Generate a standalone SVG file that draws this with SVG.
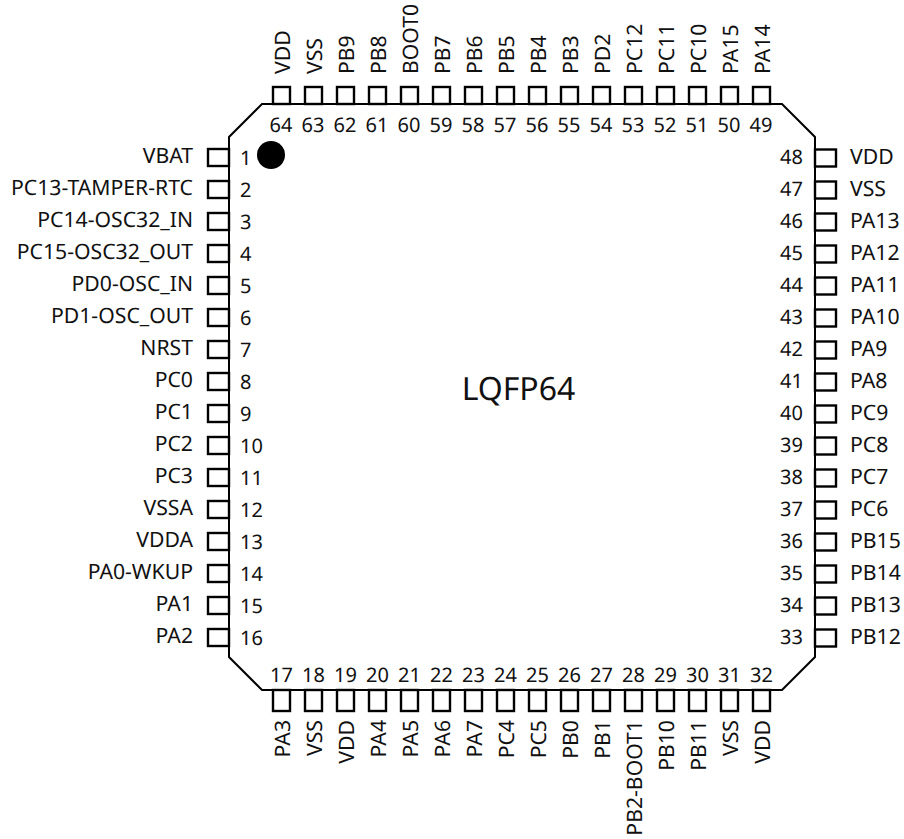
<svg xmlns="http://www.w3.org/2000/svg" width="904" height="839" viewBox="0 0 904 839">
<style>
text{font-family:"Noto Sans",sans-serif;font-size:21.2px;fill:#111;text-rendering:geometricPrecision}
#left text:last-child,#right text:last-child,#top text:first-of-type,#bottom text:first-of-type{font-size:20px}
.p{fill:#fff;stroke:#000;stroke-width:2.4}
.e{text-anchor:end}.s{text-anchor:start}.m{text-anchor:middle}
</style>
<rect width="904" height="839" fill="#fff"/>
<g id="connectors"></g>
<g id="body"><path d="M262 104H782L815 137V657L782 690H262L229 657V137Z" fill="#fff" stroke="#000" stroke-width="2"/><circle cx="271" cy="155" r="14" fill="#000"/><text x="518.5" y="400" class="m" style="font-size:32px">LQFP64</text></g>
<g id="left">
<g id="pin1"><rect class="p" x="208" y="149" width="21" height="17"/><text x="193" y="163" class="e">VBAT</text><text x="240" y="165">1</text></g>
<g id="pin2"><rect class="p" x="208" y="181" width="21" height="17"/><text x="193" y="195" class="e">PC13-TAMPER-RTC</text><text x="240" y="197">2</text></g>
<g id="pin3"><rect class="p" x="208" y="213" width="21" height="17"/><text x="193" y="227" class="e">PC14-OSC32_IN</text><text x="240" y="229">3</text></g>
<g id="pin4"><rect class="p" x="208" y="245" width="21" height="17"/><text x="193" y="259" class="e">PC15-OSC32_OUT</text><text x="240" y="261">4</text></g>
<g id="pin5"><rect class="p" x="208" y="277" width="21" height="17"/><text x="193" y="291" class="e">PD0-OSC_IN</text><text x="240" y="293">5</text></g>
<g id="pin6"><rect class="p" x="208" y="309" width="21" height="17"/><text x="193" y="323" class="e">PD1-OSC_OUT</text><text x="240" y="325">6</text></g>
<g id="pin7"><rect class="p" x="208" y="341" width="21" height="17"/><text x="193" y="355" class="e">NRST</text><text x="240" y="357">7</text></g>
<g id="pin8"><rect class="p" x="208" y="373" width="21" height="17"/><text x="193" y="387" class="e">PC0</text><text x="240" y="389">8</text></g>
<g id="pin9"><rect class="p" x="208" y="405" width="21" height="17"/><text x="193" y="419" class="e">PC1</text><text x="240" y="421">9</text></g>
<g id="pin10"><rect class="p" x="208" y="437" width="21" height="17"/><text x="193" y="451" class="e">PC2</text><text x="240" y="453">10</text></g>
<g id="pin11"><rect class="p" x="208" y="469" width="21" height="17"/><text x="193" y="483" class="e">PC3</text><text x="240" y="485">11</text></g>
<g id="pin12"><rect class="p" x="208" y="501" width="21" height="17"/><text x="193" y="515" class="e">VSSA</text><text x="240" y="517">12</text></g>
<g id="pin13"><rect class="p" x="208" y="533" width="21" height="17"/><text x="193" y="547" class="e">VDDA</text><text x="240" y="549">13</text></g>
<g id="pin14"><rect class="p" x="208" y="565" width="21" height="17"/><text x="193" y="579" class="e">PA0-WKUP</text><text x="240" y="581">14</text></g>
<g id="pin15"><rect class="p" x="208" y="597" width="21" height="17"/><text x="193" y="611" class="e">PA1</text><text x="240" y="613">15</text></g>
<g id="pin16"><rect class="p" x="208" y="629" width="21" height="17"/><text x="193" y="643" class="e">PA2</text><text x="240" y="645">16</text></g>
</g>
<g id="right">
<g id="pin33"><rect class="p" x="815" y="629.5" width="21" height="17"/><text x="850" y="644">PB12</text><text x="803" y="644" class="e">33</text></g>
<g id="pin34"><rect class="p" x="815" y="597.5" width="21" height="17"/><text x="850" y="612">PB13</text><text x="803" y="612" class="e">34</text></g>
<g id="pin35"><rect class="p" x="815" y="565.5" width="21" height="17"/><text x="850" y="580">PB14</text><text x="803" y="580" class="e">35</text></g>
<g id="pin36"><rect class="p" x="815" y="533.5" width="21" height="17"/><text x="850" y="548">PB15</text><text x="803" y="548" class="e">36</text></g>
<g id="pin37"><rect class="p" x="815" y="501.5" width="21" height="17"/><text x="850" y="516">PC6</text><text x="803" y="516" class="e">37</text></g>
<g id="pin38"><rect class="p" x="815" y="469.5" width="21" height="17"/><text x="850" y="484">PC7</text><text x="803" y="484" class="e">38</text></g>
<g id="pin39"><rect class="p" x="815" y="437.5" width="21" height="17"/><text x="850" y="452">PC8</text><text x="803" y="452" class="e">39</text></g>
<g id="pin40"><rect class="p" x="815" y="405.5" width="21" height="17"/><text x="850" y="420">PC9</text><text x="803" y="420" class="e">40</text></g>
<g id="pin41"><rect class="p" x="815" y="373.5" width="21" height="17"/><text x="850" y="388">PA8</text><text x="803" y="388" class="e">41</text></g>
<g id="pin42"><rect class="p" x="815" y="341.5" width="21" height="17"/><text x="850" y="356">PA9</text><text x="803" y="356" class="e">42</text></g>
<g id="pin43"><rect class="p" x="815" y="309.5" width="21" height="17"/><text x="850" y="324">PA10</text><text x="803" y="324" class="e">43</text></g>
<g id="pin44"><rect class="p" x="815" y="277.5" width="21" height="17"/><text x="850" y="292">PA11</text><text x="803" y="292" class="e">44</text></g>
<g id="pin45"><rect class="p" x="815" y="245.5" width="21" height="17"/><text x="850" y="260">PA12</text><text x="803" y="260" class="e">45</text></g>
<g id="pin46"><rect class="p" x="815" y="213.5" width="21" height="17"/><text x="850" y="228">PA13</text><text x="803" y="228" class="e">46</text></g>
<g id="pin47"><rect class="p" x="815" y="181.5" width="21" height="17"/><text x="850" y="196">VSS</text><text x="803" y="196" class="e">47</text></g>
<g id="pin48"><rect class="p" x="815" y="149.5" width="21" height="17"/><text x="850" y="164">VDD</text><text x="803" y="164" class="e">48</text></g>
</g>
<g id="bottom">
<g id="pin17"><rect class="p" x="273" y="690" width="17" height="21"/><text class="m" x="281.5" y="682">17</text><text class="e" transform="translate(290 720) rotate(-90)">PA3</text></g>
<g id="pin18"><rect class="p" x="305" y="690" width="17" height="21"/><text class="m" x="313.5" y="682">18</text><text class="e" transform="translate(322 720) rotate(-90)">VSS</text></g>
<g id="pin19"><rect class="p" x="337" y="690" width="17" height="21"/><text class="m" x="345.5" y="682">19</text><text class="e" transform="translate(354 720) rotate(-90)">VDD</text></g>
<g id="pin20"><rect class="p" x="369" y="690" width="17" height="21"/><text class="m" x="377.5" y="682">20</text><text class="e" transform="translate(386 720) rotate(-90)">PA4</text></g>
<g id="pin21"><rect class="p" x="401" y="690" width="17" height="21"/><text class="m" x="409.5" y="682">21</text><text class="e" transform="translate(418 720) rotate(-90)">PA5</text></g>
<g id="pin22"><rect class="p" x="433" y="690" width="17" height="21"/><text class="m" x="441.5" y="682">22</text><text class="e" transform="translate(450 720) rotate(-90)">PA6</text></g>
<g id="pin23"><rect class="p" x="465" y="690" width="17" height="21"/><text class="m" x="473.5" y="682">23</text><text class="e" transform="translate(482 720) rotate(-90)">PA7</text></g>
<g id="pin24"><rect class="p" x="497" y="690" width="17" height="21"/><text class="m" x="505.5" y="682">24</text><text class="e" transform="translate(514 720) rotate(-90)">PC4</text></g>
<g id="pin25"><rect class="p" x="529" y="690" width="17" height="21"/><text class="m" x="537.5" y="682">25</text><text class="e" transform="translate(546 720) rotate(-90)">PC5</text></g>
<g id="pin26"><rect class="p" x="561" y="690" width="17" height="21"/><text class="m" x="569.5" y="682">26</text><text class="e" transform="translate(578 720) rotate(-90)">PB0</text></g>
<g id="pin27"><rect class="p" x="593" y="690" width="17" height="21"/><text class="m" x="601.5" y="682">27</text><text class="e" transform="translate(610 720) rotate(-90)">PB1</text></g>
<g id="pin28"><rect class="p" x="625" y="690" width="17" height="21"/><text class="m" x="633.5" y="682">28</text><text class="e" transform="translate(642 720) rotate(-90)">PB2-BOOT1</text></g>
<g id="pin29"><rect class="p" x="657" y="690" width="17" height="21"/><text class="m" x="665.5" y="682">29</text><text class="e" transform="translate(674 720) rotate(-90)">PB10</text></g>
<g id="pin30"><rect class="p" x="689" y="690" width="17" height="21"/><text class="m" x="697.5" y="682">30</text><text class="e" transform="translate(706 720) rotate(-90)">PB11</text></g>
<g id="pin31"><rect class="p" x="721" y="690" width="17" height="21"/><text class="m" x="729.5" y="682">31</text><text class="e" transform="translate(738 720) rotate(-90)">VSS</text></g>
<g id="pin32"><rect class="p" x="753" y="690" width="17" height="21"/><text class="m" x="761.5" y="682">32</text><text class="e" transform="translate(770 720) rotate(-90)">VDD</text></g>
</g>
<g id="top">
<g id="pin49"><rect class="p" x="753" y="87" width="17" height="17"/><text class="m" x="761" y="132">49</text><text class="s" transform="translate(770 74) rotate(-90)">PA14</text></g>
<g id="pin50"><rect class="p" x="721" y="87" width="17" height="17"/><text class="m" x="729" y="132">50</text><text class="s" transform="translate(738 74) rotate(-90)">PA15</text></g>
<g id="pin51"><rect class="p" x="689" y="87" width="17" height="17"/><text class="m" x="697" y="132">51</text><text class="s" transform="translate(706 74) rotate(-90)">PC10</text></g>
<g id="pin52"><rect class="p" x="657" y="87" width="17" height="17"/><text class="m" x="665" y="132">52</text><text class="s" transform="translate(674 74) rotate(-90)">PC11</text></g>
<g id="pin53"><rect class="p" x="625" y="87" width="17" height="17"/><text class="m" x="633" y="132">53</text><text class="s" transform="translate(642 74) rotate(-90)">PC12</text></g>
<g id="pin54"><rect class="p" x="593" y="87" width="17" height="17"/><text class="m" x="601" y="132">54</text><text class="s" transform="translate(610 74) rotate(-90)">PD2</text></g>
<g id="pin55"><rect class="p" x="561" y="87" width="17" height="17"/><text class="m" x="569" y="132">55</text><text class="s" transform="translate(578 74) rotate(-90)">PB3</text></g>
<g id="pin56"><rect class="p" x="529" y="87" width="17" height="17"/><text class="m" x="537" y="132">56</text><text class="s" transform="translate(546 74) rotate(-90)">PB4</text></g>
<g id="pin57"><rect class="p" x="497" y="87" width="17" height="17"/><text class="m" x="505" y="132">57</text><text class="s" transform="translate(514 74) rotate(-90)">PB5</text></g>
<g id="pin58"><rect class="p" x="465" y="87" width="17" height="17"/><text class="m" x="473" y="132">58</text><text class="s" transform="translate(482 74) rotate(-90)">PB6</text></g>
<g id="pin59"><rect class="p" x="433" y="87" width="17" height="17"/><text class="m" x="441" y="132">59</text><text class="s" transform="translate(450 74) rotate(-90)">PB7</text></g>
<g id="pin60"><rect class="p" x="401" y="87" width="17" height="17"/><text class="m" x="409" y="132">60</text><text class="s" transform="translate(418 74) rotate(-90)">BOOT0</text></g>
<g id="pin61"><rect class="p" x="369" y="87" width="17" height="17"/><text class="m" x="377" y="132">61</text><text class="s" transform="translate(386 74) rotate(-90)">PB8</text></g>
<g id="pin62"><rect class="p" x="337" y="87" width="17" height="17"/><text class="m" x="345" y="132">62</text><text class="s" transform="translate(354 74) rotate(-90)">PB9</text></g>
<g id="pin63"><rect class="p" x="305" y="87" width="17" height="17"/><text class="m" x="313" y="132">63</text><text class="s" transform="translate(322 74) rotate(-90)">VSS</text></g>
<g id="pin64"><rect class="p" x="273" y="87" width="17" height="17"/><text class="m" x="281" y="132">64</text><text class="s" transform="translate(290 74) rotate(-90)">VDD</text></g>
</g>
</svg>
